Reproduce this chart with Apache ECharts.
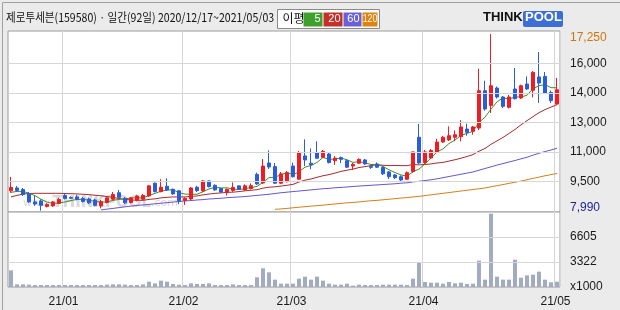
<!DOCTYPE html>
<html><head><meta charset="utf-8">
<script src="https://cdn.jsdelivr.net/npm/echarts@6/dist/echarts.min.js"></script>
<style>html,body{margin:0;padding:0;background:#ebebeb}#c{width:620px;height:310px}</style>
</head><body><div id="c"></div>
<script>
// ---- trading days (KRX) 2020/12/17 ~ 2021/05/03 ----
const tradingDays = {
  '2020-12': [17,18,21,22,23,24,28,29,30],
  '2021-01': [4,5,6,7,8,11,12,13,14,15,18,19,20,21,22,25,26,27,28,29],
  '2021-02': [1,2,3,4,5,8,9,10,15,16,17,18,19,22,23,24,25,26],
  '2021-03': [2,3,4,5,8,9,10,11,12,15,16,17,18,19,22,23,24,25,26,29,30,31],
  '2021-04': [1,2,5,6,7,8,9,12,13,14,15,16,19,20,21,22,23,26,27,28,29,30],
  '2021-05': [3]
};
const monthTickLabels = {'2021-01':'21/01','2021-02':'21/02','2021-03':'21/03','2021-04':'21/04','2021-05':'21/05'};

const opens = [9030,9180,9100,8870,8450,8500,8210,8240,8370,8790,8680,8710,8630,8600,8550,8240,8420,8590,8930,8630,
 8420,8530,8590,8760,9430,8990,9270,9110,9030,8520,8600,9220,9030,9550,9320,9150,8950,9050,9290,9080,
 9150,9890,9440,10490,10300,9430,9510,10330,9640,10860,10480,11030,10790,10960,10610,10770,10610,10330,10480,10650,
 10310,10440,10250,10020,9860,9770,9640,10050,11840,10520,10750,11070,11590,11700,11840,11870,12270,12150,12320,14280,
 13510,14420,13950,13410,14370,13900,14630,14300,15000,15030,14190,13580];
const closes = [9210,9050,8840,8450,8340,8270,8320,8450,8580,8630,8640,8580,8470,8400,8270,8460,8660,8840,8690,8400,
 8660,8760,8790,9290,8990,9220,9080,8870,8500,8640,9180,9040,9550,9250,9080,8970,9110,9210,9110,9290,
 9300,9390,10330,10280,9430,9920,9980,9770,11030,10650,10390,10740,11100,10510,10740,10680,10270,10420,10680,10440,
 10260,10270,9920,9770,9720,9600,9980,11070,10490,11070,11140,11590,11840,11920,11970,12380,12100,12380,14280,13320,
 14540,13950,13460,13950,13860,14540,14370,15240,14680,14160,13760,14330];
const lows = [8920,8970,8760,8400,8240,7990,8160,8190,8340,8580,8600,8530,8420,8340,8210,8110,8370,8550,8660,8340,
 8370,8470,8550,8710,8950,8950,9030,8820,8330,8290,8550,8970,8970,9210,9030,8920,8790,8970,9080,9030,
 9100,9340,9390,10180,9390,9390,9470,9730,9600,10330,10160,10700,10750,10470,10390,10490,10230,10120,10440,10390,
 10180,10230,9860,9650,9650,9550,9600,9970,10440,10440,10700,11020,11540,11640,11630,11630,11920,11970,12210,13230,
 13110,13870,13370,13350,13820,13840,14320,13930,13640,14110,13640,13530];
const highs = [9760,9290,9180,8970,8760,8580,8370,8500,8660,8890,8740,8820,8710,8680,8630,8550,8740,8970,9080,8710,
 8710,8820,8870,9340,9470,9640,9690,9150,9080,8690,9230,9290,9600,9570,9370,9180,9150,9470,9310,9370,
 9420,9980,10700,11150,10490,10020,10070,10510,11120,11730,11250,11630,11170,11020,10860,10830,10680,10490,10730,10700,
 10390,10520,10310,10070,9910,9840,10050,11100,12540,11170,11220,11760,11910,12410,12200,12730,12550,12430,15430,14800,
 17250,14500,14000,14060,15470,14600,15030,15310,16310,15260,14290,14950];
// volume, x1000 shares
const volumes = [2200,350,350,310,260,260,260,260,260,260,260,260,260,260,260,260,310,350,350,310,
 260,260,350,700,480,840,700,400,310,260,480,400,400,480,260,260,260,350,260,260,
 260,1280,2470,1940,970,440,440,440,1100,1365,970,1365,840,440,310,310,440,180,310,260,
 260,260,310,310,310,310,260,1100,3300,660,570,570,440,660,480,570,400,440,3480,970,
 9690,1365,970,970,3610,1230,1540,1630,2030,970,620,700];
const ma5 = [8950,9000,9000,8900,8780,8590,8440,8370,8390,8450,8520,8580,8580,8540,8470,8440,8450,8530,8580,8610,
 8650,8670,8660,8780,8900,9010,9070,9090,8930,8860,8850,8850,8980,9130,9220,9180,9190,9120,9100,9140,
 9200,9260,9480,9720,9750,9870,9990,9880,10030,10270,10360,10520,10780,10680,10700,10750,10660,10520,10560,10500,
 10410,10410,10310,10130,9990,9860,9800,10030,10170,10440,10750,11070,11230,11510,11690,11940,12040,12150,12620,12890,
 13320,13690,13910,13840,13950,13950,14040,14390,14540,14600,14440,14430];
const ma20 = [8710,8790,8860,8890,8900,8900,8900,8900,8900,8890,8880,8870,8850,8830,8800,8770,8730,8680,8630,8580,
 8550,8540,8530,8580,8610,8660,8690,8710,8710,8710,8740,8760,8820,8860,8900,8920,8950,8960,8990,9030,
 9060,9090,9170,9220,9240,9280,9320,9370,9490,9590,9650,9740,9820,9880,9960,10050,10110,10170,10250,10300,
 10350,10400,10370,10350,10360,10350,10350,10410,10390,10410,10440,10490,10520,10590,10660,10740,10830,10930,11110,11250,
 11470,11650,11830,12040,12250,12490,12710,12920,13130,13290,13420,13550];
const ma60 = [null,null,null,null,null,null,null,null,null,null,null,null,null,null,null,8030,8070,8110,8150,8190,
 8230,8265,8290,8320,8350,8380,8410,8440,8470,8500,8520,8550,8570,8600,8620,8640,8670,8690,8710,8730,
 8760,8790,8820,8850,8890,8930,8960,8990,9020,9050,9080,9110,9140,9160,9190,9210,9230,9260,9280,9300,
 9320,9340,9360,9380,9400,9430,9450,9500,9530,9570,9610,9660,9720,9780,9840,9900,9960,10020,10110,10200,
 10290,10380,10460,10540,10620,10710,10790,10900,11000,11090,11170,11260];
const ma120 = [null,null,null,null,null,null,null,null,null,null,null,null,null,null,null,null,null,null,null,null,
 null,null,null,null,null,null,null,null,null,null,null,null,null,null,null,null,null,null,null,null,
 null,null,null,null,8060,8080,8110,8140,8170,8200,8230,8250,8280,8310,8340,8370,8400,8420,8450,8480,
 8510,8530,8560,8590,8620,8650,8680,8710,8740,8780,8820,8860,8900,8940,8980,9020,9060,9100,9140,9180,
 9240,9300,9360,9420,9480,9540,9610,9680,9750,9820,9880,9940];

// price axis tick labels (ThinkPool style: max, min and 5 rounded grid labels)
const priceMax = 17250, priceMin = 7990;
const priceGridLabels = ['9,500','11,000','13,000','14,000','16,000'];
const volTickValues = [0, 3322, 6605];
const volTickLabels = ['x1000','3322','6605'];

// ---- build ----
const categories = [];
const monthStart = {};
Object.keys(tradingDays).forEach(m => {
  tradingDays[m].forEach((d, k) => {
    const key = m + '-' + String(d).padStart(2,'0');
    if (k === 0 && monthTickLabels[m]) monthStart[key] = monthTickLabels[m];
    categories.push(key);
  });
});
const candle = categories.map((c,i) => [opens[i], closes[i], lows[i], highs[i]]);
const priceGridValues = priceGridLabels.map((_, k) => priceMin + (k+1)*(priceMax-priceMin)/6);
const priceTickValues = [priceMin].concat(priceGridValues, [priceMax]);
const isMonthStart = (idx, val) => monthStart[val] !== undefined;

const fmtNum = v => Math.round(v).toString().replace(/\B(?=(\d{3})+(?!\d))/g, ',');

const chart = echarts.init(document.getElementById('c'), null, {width:620, height:310});
const axisFont = {color:'#1a1a1a', fontSize:12, fontFamily:'"Liberation Sans", Arial, sans-serif'};
const option = {
  backgroundColor:'#ebebeb',
  animation:false,
  grid:[
    {left:8, right:60, top:31, height:181, show:true, backgroundColor:'#ffffff', borderColor:'#9c9c9c', borderWidth:1},
    {left:8, right:60, top:212, height:75, show:true, backgroundColor:'#ffffff', borderColor:'#9c9c9c', borderWidth:1}
  ],
  xAxis:[
    {type:'category', gridIndex:0, data:categories, boundaryGap:true,
     axisLine:{show:false}, axisTick:{show:false}, axisLabel:{show:false},
     splitLine:{show:true, interval:isMonthStart, lineStyle:{color:'#d6d6d6', width:1}}},
    {type:'category', gridIndex:1, data:categories, boundaryGap:true,
     axisLine:{show:false}, axisTick:{show:false},
     axisLabel:Object.assign({show:true, interval:isMonthStart, margin:9, padding:[0,3,0,0], formatter:v => monthStart[v] || ''}, axisFont),
     splitLine:{show:true, interval:isMonthStart, lineStyle:{color:'#d6d6d6', width:1}}}
  ],
  yAxis:[
    {type:'value', gridIndex:0, position:'right', min:7920, max:17410, scale:true,
     axisLine:{show:false}, axisTick:{show:false}, splitLine:{show:false},
     axisLabel:Object.assign({margin:10, align:'left', customValues:priceTickValues,
       formatter:function(v){
         if (Math.abs(v-priceMax) < 1) return '{mx|' + fmtNum(priceMax) + '}';
         if (Math.abs(v-priceMin) < 1) return '{mn|' + fmtNum(priceMin) + '}';
         const i = priceGridValues.findIndex(g => Math.abs(g-v) < 1);
         return i >= 0 ? priceGridLabels[i] : '';
       },
       rich:{
         mx:{color:'#d2760e', fontSize:12, fontFamily:'"Liberation Sans", Arial, sans-serif', padding:[8,0,0,0]},
         mn:{color:'#1f1f8f', fontSize:12, fontFamily:'"Liberation Sans", Arial, sans-serif', padding:[0,0,6,0]}
       }}, axisFont)},
    {type:'value', gridIndex:1, position:'right', min:0, max:9908,
     axisLine:{show:false}, axisTick:{show:false}, splitLine:{show:false},
     axisLabel:Object.assign({margin:10, align:'left', customValues:volTickValues,
       formatter:function(v){ const i = volTickValues.indexOf(v); return i >= 0 ? volTickLabels[i] : ''; }}, axisFont)}
  ],
  series:[
    {type:'line', xAxisIndex:0, yAxisIndex:0, data:[], z:1, silent:true,
     markLine:{silent:true, symbol:['none','none'], label:{show:false}, animation:false,
       lineStyle:{color:'#d6d6d6', type:'solid', width:1},
       data:priceGridValues.map(v => ({yAxis:v}))}},
    {type:'line', xAxisIndex:1, yAxisIndex:1, data:[], z:1, silent:true,
     markLine:{silent:true, symbol:['none','none'], label:{show:false}, animation:false,
       lineStyle:{color:'#d6d6d6', type:'solid', width:1},
       data:volTickValues.slice(1).map(v => ({yAxis:v}))}},
    {name:'MA120', type:'line', data:ma120, xAxisIndex:0, yAxisIndex:0, symbol:'none', z:2,
     lineStyle:{color:'#d4811a', width:1}},
    {name:'MA60', type:'line', data:ma60, xAxisIndex:0, yAxisIndex:0, symbol:'none', z:2,
     lineStyle:{color:'#6657cf', width:1}},
    {name:'MA20', type:'line', data:ma20, xAxisIndex:0, yAxisIndex:0, symbol:'none', z:2,
     lineStyle:{color:'#a82c2c', width:1}},
    {name:'MA5', type:'line', data:ma5, xAxisIndex:0, yAxisIndex:0, symbol:'none', z:2,
     lineStyle:{color:'#3f8f25', width:1}},
    {name:'price', type:'candlestick', data:candle, xAxisIndex:0, yAxisIndex:0, z:3, barWidth:4,
     itemStyle:{color:'#ee1c24', color0:'#2a5ddc', borderColor:'#ee1c24', borderColor0:'#2a5ddc', borderWidth:1}},
    {name:'volume', type:'bar', data:volumes, xAxisIndex:1, yAxisIndex:1, z:3, barWidth:4,
     itemStyle:{color:'#a3abc2'}}
  ],
  graphic:[
    {type:'rect', left:0, top:0, z:-10, shape:{width:619, height:309}, style:{fill:'none', stroke:'#a0a0a0', lineWidth:1}},
    {type:'text', left:23, top:196, z:1, silent:true,
     style:{text:'{a|www.}{b|THINKPOOL}{a|.com}', fill:'#cccccc', opacity:0.75,
       rich:{a:{fontSize:11, fontFamily:'"DejaVu Sans", sans-serif', fill:'#cccccc'},
             b:{fontSize:15, fontWeight:'bold', fontFamily:'"DejaVu Sans", sans-serif', fill:'#cccccc'}}}},
    {type:'text', left:6, top:11, scaleX:0.88,
     style:{text:'제로투세븐(159580) · 일간(92일) 2020/12/17~2021/05/03', font:'12px "Noto Sans CJK KR"', fill:'#111111'}},
    {type:'group', left:277, top:9, children:[
      {type:'rect', shape:{x:0, y:0, width:102, height:19}, style:{fill:'#ffffff', stroke:'#8a8a8a', lineWidth:1}},
      {type:'text', x:5, y:3, style:{text:'이평', font:'12px "Noto Sans CJK KR"', fill:'#111'}},
      {type:'rect', shape:{x:26, y:3, width:19, height:14}, style:{fill:'#40a02c'}},
      {type:'text', x:43, y:4, style:{text:'5', font:'11px "Liberation Sans"', fill:'#fff', align:'right'}},
      {type:'rect', shape:{x:46, y:3, width:19, height:14}, style:{fill:'#c43028'}},
      {type:'text', x:63, y:4, style:{text:'20', font:'11px "Liberation Sans"', fill:'#fff', align:'right'}},
      {type:'rect', shape:{x:66, y:3, width:18, height:14}, style:{fill:'#6a62d4'}},
      {type:'text', x:82, y:4, style:{text:'60', font:'11px "Liberation Sans"', fill:'#fff', align:'right'}},
      {type:'rect', shape:{x:85, y:3, width:15, height:14}, style:{fill:'#e0820f'}},
      {type:'text', x:92.5, y:4, scaleX:0.8, style:{text:'120', font:'11px "Liberation Sans"', fill:'#fff', align:'center'}}
    ]},
    {type:'group', left:483, top:11, children:[
      {type:'text', x:0, y:0, style:{text:'THINK', font:'bold 13px "Liberation Sans"', fill:'#111'}},
      {type:'rect', shape:{x:40, y:0, width:40, height:16, r:2}, style:{fill:'#3b6fd6'}},
      {type:'text', x:42, y:0, style:{text:'POOL', font:'bold 13px "Liberation Sans"', fill:'#ffffff'}}
    ]}
  ]
};
chart.setOption(option);
</script>
</body></html>
